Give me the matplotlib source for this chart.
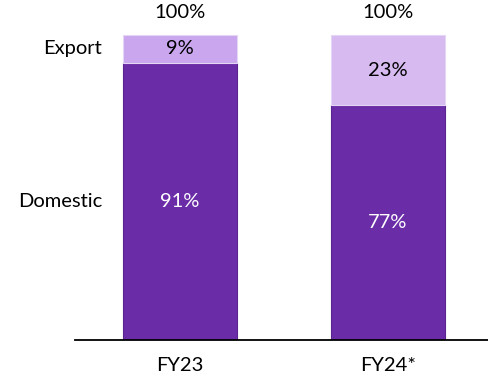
import matplotlib

matplotlib.use("Agg")
import matplotlib.pyplot as plt

plt.rcParams["font.family"] = ["Lato", "DejaVu Sans"]

years = ["FY23", "FY24*"]
domestic = [91, 77]
export = [9, 23]
segments = ["Domestic", "Export"]

C_DOM = "#6b2ca8"
C_EXP = ["#c9a6ee", "#d6baf0"]

fig = plt.figure(figsize=(4.89, 3.74), dpi=100)
ax = fig.add_axes([0, 34 / 374, 1, 340 / 374])

x = [0, 1]
ax.bar(x, domestic, width=0.55, color=C_DOM, edgecolor="#5a2590", lw=0.8)
ax.bar(x, export, width=0.55, bottom=domestic, color=C_EXP, edgecolor="#e6d6f5", lw=0.8)

ax.set_xlim(-180 / 208, 309 / 208)
ax.set_ylim(0, 111.5)

fs = 14.5
for i in x:
    total = domestic[i] + export[i]
    ax.text(i, domestic[i] / 2, f"{domestic[i]}%", ha="center", va="center",
            color="white", fontsize=fs)
    ax.text(i, domestic[i] + export[i] / 2, f"{export[i]}%", ha="center",
            va="center", color="black", fontsize=fs)
    ax.text(i, total + 7.5, f"{total}%", ha="center", va="center", fontsize=fs)

# segment names, lined up with the FY23 bar
xl = (102 - 180) / 208
ax.text(xl, domestic[0] + export[0] / 2, segments[1], ha="right", va="center", fontsize=fs)
ax.text(xl, domestic[0] / 2, segments[0], ha="right", va="center", fontsize=fs)

for s in ["top", "right", "left"]:
    ax.spines[s].set_visible(False)
ax.spines["bottom"].set_bounds(-105 / 208, 309 / 208)
ax.spines["bottom"].set_linewidth(1.3)
ax.set_yticks([])
ax.set_xticks(x)
ax.set_xticklabels(years, fontsize=fs)
ax.tick_params(axis="x", length=0, pad=12)

fig.savefig("out.png", dpi=100)
